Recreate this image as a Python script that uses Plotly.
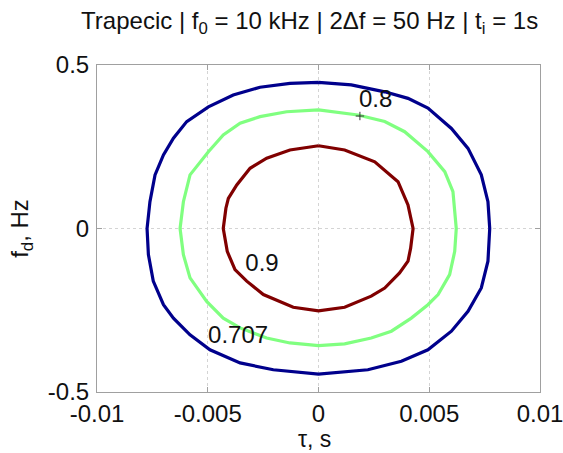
import plotly.graph_objects as go

# Contour levels and their colours
levels = ["0.707", "0.8", "0.9"]
colors = ["#00008C", "#80FF80", "#800000"]

# Contour 0.707 (tau in s, f_d in Hz)
c707_tau = [0, 0.00148, 0.00299, 0.00404, 0.00494, 0.0060, 0.00675, 0.00735, 0.00765, 0.00773,
            0.00765, 0.00735, 0.00675, 0.0060, 0.00494, 0.00374, 0.00223, 0.00118, 0,
            -0.00204, -0.00354, -0.0049, -0.0058, -0.00655, -0.0070, -0.00746, -0.00768, -0.00774,
            -0.00761, -0.00738, -0.0070, -0.00655, -0.00595, -0.00497, -0.00385, -0.00264, -0.00129, 0]
c707_fd = [0.447, 0.439, 0.418, 0.398, 0.368, 0.306, 0.245, 0.164, 0.082, 0,
           -0.100, -0.182, -0.253, -0.314, -0.371, -0.406, -0.432, -0.439, -0.445,
           -0.432, -0.411, -0.371, -0.325, -0.274, -0.233, -0.161, -0.080, 0,
           0.082, 0.164, 0.225, 0.276, 0.327, 0.372, 0.408, 0.432, 0.444, 0.447]

# Contour 0.8
c80_tau = [0, 0.00178, 0.00299, 0.00389, 0.00494, 0.0057, 0.00607, 0.00622,
           0.00615, 0.00592, 0.0054, 0.00494, 0.00419, 0.00329, 0.00238, 0.00118, 0,
           -0.00129, -0.00234, -0.00354, -0.0043, -0.00505, -0.0058, -0.0061, -0.00625,
           -0.0061, -0.0058, -0.00535, -0.00497, -0.0043, -0.00354, -0.00264, -0.00144, 0]
c80_fd = [0.363, 0.347, 0.327, 0.296, 0.235, 0.174, 0.113, 0,
          -0.070, -0.141, -0.202, -0.233, -0.274, -0.314, -0.335, -0.353, -0.358,
          -0.350, -0.335, -0.304, -0.274, -0.223, -0.151, -0.080, 0,
          0.082, 0.164, 0.204, 0.235, 0.286, 0.322, 0.342, 0.357, 0.363]

# Contour 0.9
c90_tau = [0, 0.00118, 0.00254, 0.00359, 0.00404, 0.00427,
           0.00416, 0.00404, 0.00366, 0.00299, 0.00238, 0.00118, 0,
           -0.00114, -0.00249, -0.00324, -0.00377, -0.00412, -0.0043,
           -0.00418, -0.00407, -0.00369, -0.00309, -0.00234, -0.00129, 0]
c90_fd = [0.253, 0.240, 0.204, 0.143, 0.072, 0,
          -0.060, -0.100, -0.136, -0.182, -0.207, -0.241, -0.252,
          -0.241, -0.202, -0.161, -0.126, -0.070, 0,
          0.062, 0.092, 0.133, 0.184, 0.215, 0.240, 0.253]

# Label positions (data coords)
label_tau = [-0.00363, 0.00258, -0.00255]
label_fd = [-0.332, 0.39, -0.112]
marker_tau = [0.00187]
marker_fd = [0.344]

x_ticks = [-0.01, -0.005, 0, 0.005, 0.01]
x_ticktext = ["-0.01", "-0.005", "0", "0.005", "0.01"]
y_ticks = [-0.5, 0, 0.5]
y_ticktext = ["-0.5", "0", "0.5"]

FONT = "Liberation Sans, Arial, sans-serif"
FS = 24

fig = go.Figure()
for tx, fy, col in [(c707_tau, c707_fd, colors[0]), (c80_tau, c80_fd, colors[1]), (c90_tau, c90_fd, colors[2])]:
    fig.add_trace(go.Scatter(x=tx, y=fy, mode="lines", line=dict(color=col, width=3.2),
                             hoverinfo="skip", showlegend=False))

fig.add_trace(go.Scatter(x=marker_tau, y=marker_fd, mode="markers",
                         marker=dict(symbol="cross-thin", size=6, line=dict(color="#333", width=1)),
                         showlegend=False))
fig.add_trace(go.Scatter(x=label_tau, y=label_fd, mode="text", text=levels,
                         textfont=dict(family=FONT, size=FS, color="#111"),
                         textposition="middle center", showlegend=False))

axis_common = dict(
    showline=True, linecolor="#a0a0a0", linewidth=1, mirror="ticks",
    ticks="inside", ticklen=5, tickcolor="#a0a0a0",
    showgrid=True, gridcolor="#d4d4d4", griddash="dot", gridwidth=1,
    zeroline=False, tickfont=dict(family=FONT, size=FS, color="#111"),
    automargin=False, ticklabeloverflow="allow",
)

fig.update_layout(
    width=563, height=453,
    margin=dict(l=97, r=23, t=65, b=61),
    paper_bgcolor="white", plot_bgcolor="white",
    title=dict(text="Trapecic | f<sub>0</sub> = 10 kHz | 2Δf = 50 Hz | t<sub>i</sub> = 1s",
               x=0.55, xanchor="center", y=0.955, yanchor="middle",
               font=dict(family=FONT, size=FS, color="#111")),
    xaxis=dict(range=[-0.01, 0.01], tickvals=x_ticks, ticktext=x_ticktext, ticklabelstandoff=0,
               **axis_common),
    yaxis=dict(range=[-0.5, 0.5], tickvals=y_ticks, ticktext=y_ticktext, ticklabelstandoff=2,
               title=dict(text="f<sub>d</sub>, Hz", font=dict(family=FONT, size=FS, color="#111"), standoff=12),
               **axis_common),
    annotations=[dict(text="τ, s", xref="paper", yref="paper", x=0.49, y=-0.1437,
                      xanchor="center", yanchor="middle", showarrow=False, borderpad=0,
                      font=dict(family=FONT, size=23, color="#111"))],
)

fig.write_html("out.html")
